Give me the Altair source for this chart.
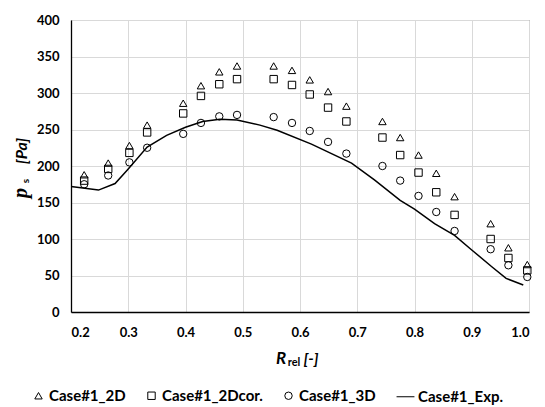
import altair as alt
import pandas as pd

r_rel = [0.223, 0.265, 0.302, 0.333, 0.396, 0.427, 0.459, 0.490, 0.554, 0.586, 0.617,
         0.649, 0.681, 0.744, 0.775, 0.807, 0.838, 0.870, 0.933, 0.964, 0.997]
case_2d = [188, 204, 228, 256, 286, 310, 329, 337, 337, 331, 318, 302, 282, 261, 239,
           215, 190, 158, 121, 88, 65]
case_2dcor = [180, 196, 218, 246, 272, 296, 312, 319, 319, 311, 298, 280, 261, 239, 215,
              191, 164, 133, 100, 74, 57]
case_3d = [175, 187, 205, 225, 244, 259, 268, 270, 267, 259, 248, 233, 217, 200, 180,
           159, 137, 111, 86, 64, 48]

exp_r = [0.2, 0.248, 0.277, 0.30, 0.333, 0.367, 0.40, 0.43, 0.46, 0.49, 0.53, 0.56,
         0.62, 0.69, 0.73, 0.775, 0.80, 0.835, 0.87, 0.90, 0.935, 0.96, 0.99]
exp_v = [172, 167, 176, 196, 226, 242, 253, 261, 264, 263, 256, 249, 230, 204, 181,
         153, 141, 121, 105, 85, 62, 46, 37]

series = ["Case#1_2D", "Case#1_2Dcor.", "Case#1_3D", "Case#1_Exp."]
shapes = ["triangle-up", "square", "circle", "stroke"]
sizes = [55, 55, 55, 320]

rows = []
for name, vals in zip(series[:3], [case_2d, case_2dcor, case_3d]):
    for r, v in zip(r_rel, vals):
        rows.append({"r": r, "p": v, "series": name})
pts_df = pd.DataFrame(rows)
exp_df = pd.DataFrame({"r": exp_r, "p": exp_v, "series": series[3]})

legend = alt.Legend(
    title=None, orient="none", legendX=-40, legendY=367, direction="horizontal",
    labelFont="Lato", labelFontSize=15, labelFontWeight="bold", labelColor="black",
    symbolStrokeColor="black", symbolFillColor="transparent", symbolStrokeWidth=1,
    labelOffset=3, columnPadding=18,
)

xs = alt.Scale(domain=[0.2, 1.0], nice=False, zero=False)
ys = alt.Scale(domain=[0, 400], nice=False)
xax = alt.Axis(values=[0.2, 0.3, 0.4, 0.5, 0.6, 0.7, 0.8, 0.9, 1.0], format=".1f",
               title=None, labelPadding=14, labelOverlap=False)
yax = alt.Axis(values=[0, 50, 100, 150, 200, 250, 300, 350, 400], title=None,
               labelPadding=12, labelOverlap=False)

points = alt.Chart(pts_df).mark_point(filled=False, color="black", strokeWidth=1, opacity=1).encode(
    x=alt.X("r:Q", scale=xs, axis=xax),
    y=alt.Y("p:Q", scale=ys, axis=yax),
    shape=alt.Shape("series:N", scale=alt.Scale(domain=series, range=shapes), legend=legend),
    size=alt.Size("series:N", scale=alt.Scale(type="ordinal", domain=series, range=sizes),
                  legend=legend),
)

line = alt.Chart(exp_df).mark_line(color="black", strokeWidth=1.5).encode(
    x=alt.X("r:Q", scale=xs, axis=xax),
    y=alt.Y("p:Q", scale=ys, axis=yax),
)

def label(text, x, y, size, italic=True, angle=0, font="Lato"):
    return alt.Chart(pd.DataFrame({"t": [text]})).mark_text(
        font=font, fontSize=size, fontWeight="bold",
        fontStyle="italic" if italic else "normal", color="black",
        align="center", baseline="middle", angle=angle,
    ).encode(text="t:N", x=alt.value(x), y=alt.value(y))

titles = [
    label("p", -50, 173, 20, font="Liberation Serif", angle=270),
    label("s", -45, 161, 10, italic=False, angle=270),
    label("[Pa]", -49, 131, 16, angle=270),
    label("R", 210, 339, 17),
    label("rel", 223, 343, 11, italic=False),
    label("[-]", 240, 339, 16),
]

chart = alt.layer(line, points, *titles).properties(
    width=458, height=292,
    autosize=alt.AutoSizeParams(type="none"),
    padding={"left": 71, "top": 20, "right": 16, "bottom": 95},
).configure_view(
    stroke="#6f6f6f", strokeWidth=1
).configure_axis(
    domainColor="black", domainWidth=1.3, gridColor="#d9d9d9", gridWidth=1,
    ticks=False, labelFont="Lato", labelFontSize=13, labelFontWeight="bold",
    labelColor="black",
)

chart.save("out.html", embed_options={"renderer": "svg", "actions": False})
